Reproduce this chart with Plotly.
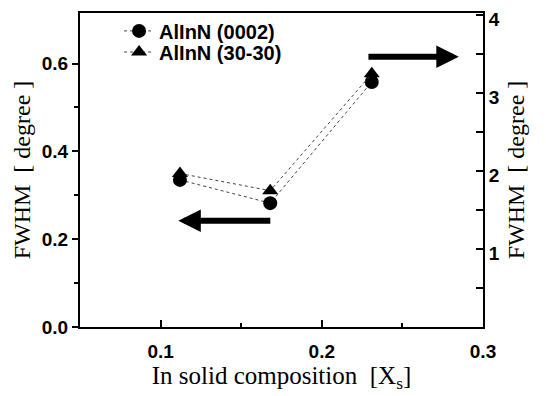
import plotly.graph_objects as go

# Data
x_0002 = [0.112, 0.168, 0.231]
fwhm_0002 = [0.335, 0.282, 0.558]          # left axis [degree]
x_3030 = [0.112, 0.168, 0.231]
fwhm_3030 = [1.97, 1.75, 3.25]             # right axis [degree]

# arrows indicating which axis each set belongs to
left_arrow_tail = (0.169, 0.242)
left_arrow_head = (0.111, 0.242)
right_arrow_tail = (0.228, 3.47)
right_arrow_head = (0.285, 3.47)

tick_font = dict(family="Liberation Sans, Arial", size=19, color="#000000", weight="bold")
title_font_x = dict(family="Liberation Serif, Times New Roman", size=25, color="#000000")
title_font_y = dict(family="Liberation Serif, Times New Roman", size=24, color="#000000")
legend_font = dict(family="Liberation Sans, Arial", size=20, color="#000000", weight="bold")

fig = go.Figure()
fig.add_trace(go.Scatter(
    x=x_0002, y=fwhm_0002, name="AlInN (0002)", mode="lines+markers",
    line=dict(color="#444444", width=1, dash="dot"),
    marker=dict(symbol="circle", size=14, color="black"),
    legend="legend",
))
fig.add_trace(go.Scatter(
    x=x_3030, y=fwhm_3030, name="AlInN (30-30)", mode="lines+markers",
    line=dict(color="#444444", width=1, dash="dot"),
    marker=dict(symbol="triangle-up", size=14, color="black"),
    yaxis="y2", legend="legend2",
))

fig.add_annotation(x=left_arrow_head[0], y=left_arrow_head[1], ax=left_arrow_tail[0], ay=left_arrow_tail[1],
                   xref="x", yref="y", axref="x", ayref="y", text="", showarrow=True,
                   arrowhead=2, arrowsize=0.75, arrowwidth=6, arrowcolor="black")
fig.add_annotation(x=right_arrow_head[0], y=right_arrow_head[1], ax=right_arrow_tail[0], ay=right_arrow_tail[1],
                   xref="x", yref="y2", axref="x", ayref="y2", text="", showarrow=True,
                   arrowhead=2, arrowsize=0.75, arrowwidth=6, arrowcolor="black")

leg_common = dict(xanchor="left", yanchor="middle", bgcolor="rgba(0,0,0,0)",
                  font=legend_font, itemwidth=30, borderwidth=0)

fig.update_layout(
    width=538, height=388,
    margin=dict(l=72, r=63, t=4, b=69),
    paper_bgcolor="white", plot_bgcolor="white",
    showlegend=True,
    legend=dict(x=0.097, y=0.94, **leg_common),
    legend2=dict(x=0.097, y=0.873, **leg_common),
    xaxis=dict(range=[0.05, 0.3], tickvals=[0.1, 0.2, 0.3], ticktext=["0.1", "0.2", "0.3"],
               ticks="inside", ticklen=7, tickwidth=1.5, tickcolor="black",
               minor=dict(tickvals=[0.15, 0.25], ticks="inside", ticklen=4, tickcolor="black"),
               showline=True, linecolor="black", linewidth=2, mirror=True,
               showgrid=False, zeroline=False, tickfont=tick_font, ticklabelstandoff=6,
               automargin=False,
               title=dict(text="In solid composition  [X<sub>s</sub>]", font=title_font_x, standoff=4)),
    yaxis=dict(range=[0, 0.715], tickvals=[0.0, 0.2, 0.4, 0.6], ticktext=["0.0", "0.2", "0.4", "0.6"],
               ticks="outside", ticklen=6, tickwidth=1.5, tickcolor="black",
               minor=dict(tickvals=[0.1, 0.3, 0.5], ticks="outside", ticklen=4, tickcolor="black"),
               showline=True, linecolor="black", linewidth=2,
               showgrid=False, zeroline=False, tickfont=tick_font, automargin=False,
               title=dict(text="FWHM  [ degree ]", font=title_font_y, standoff=4)),
    yaxis2=dict(range=[0, 4.03], overlaying="y", side="right", anchor="x",
                tickvals=[1, 2, 3, 4], ticktext=["1", "2", "3", "4"],
                ticks="inside", ticklen=7, tickwidth=1.5, tickcolor="black",
                minor=dict(tickvals=[0.5, 1.5, 2.5, 3.5], ticks="inside", ticklen=7, tickcolor="black"),
                showline=True, linecolor="black", linewidth=2,
                showgrid=False, zeroline=False, tickfont=tick_font, automargin=False,
                ticklabeloverflow="allow", ticklabelshift=4,
                title=dict(text="FWHM  [ degree ]", font=title_font_y, standoff=8)),
)

fig.write_html("out.html")
